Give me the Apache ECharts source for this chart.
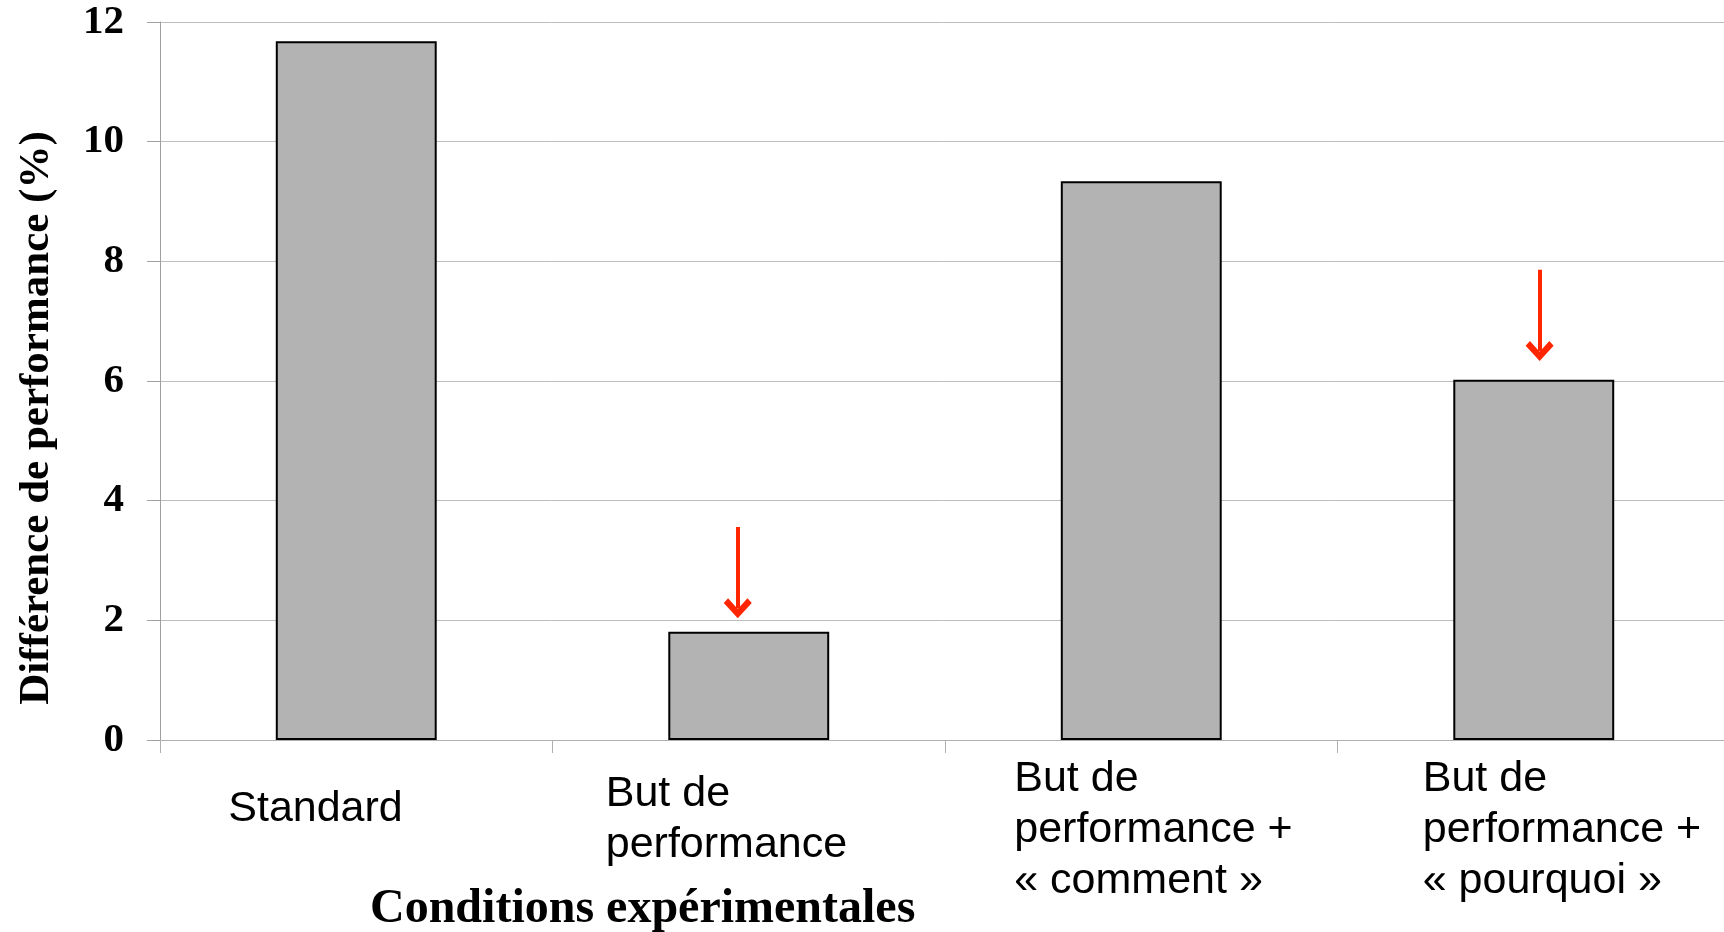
<!DOCTYPE html>
<html>
<head>
<meta charset="utf-8">
<script src="https://cdn.jsdelivr.net/npm/echarts@6/dist/echarts.min.js"></script>
<style>
  html, body { margin: 0; padding: 0; background: #fff; }
  #chart { width: 1724px; height: 932px; }
</style>
</head>
<body>
<div id="chart"></div>
<script>
// categories (line breaks as in the original labels)
var categories = [
  "Standard",
  "But de\nperformance",
  "But de\nperformance +\n« comment »",
  "But de\nperformance +\n« pourquoi »"
];
// performance difference (%)
var values = [11.68, 1.81, 9.34, 6.02];
// red arrows: x position (in category units), start value, end value
var arrowX = [0.972, 3.015];
var arrowFrom = [3.56, 7.86];
var arrowTo = [2.2, 6.5];

var serif = "'Liberation Serif', 'Times New Roman', serif";
var sans = "'Liberation Sans', Arial, sans-serif";

var arrowData = [];
for (var i = 0; i < arrowX.length; i++) {
  arrowData.push([
    { coord: [arrowX[i], arrowFrom[i]] },
    { coord: [arrowX[i], arrowTo[i]] }
  ]);
}

// label nudges (px) to mimic the Excel text boxes
var nudge = [7, -8, 8, 24];
var catData = categories.map(function (c, i) {
  var n = c.split("\n").length;
  var s = nudge[i];
  return {
    value: c,
    textStyle: { padding: [(3 - n) * 15, s < 0 ? -2 * s : 0, 0, s > 0 ? 2 * s : 0] }
  };
});

var chart = echarts.init(document.getElementById("chart"));
var option = {
  backgroundColor: "#fff",
  animation: false,
  tooltip: { show: false },
  title: {
    text: "Conditions expérimentales",
    left: 370,
    top: 886,
    padding: 0,
    textStyle: {
      fontFamily: serif,
      fontWeight: "bold",
      fontSize: 48,
      color: "#000"
    }
  },
  grid: {
    left: 160,
    top: 22,
    width: 1570,
    height: 718,
    outerBoundsMode: "none",
    containLabel: false
  },
  xAxis: [
    {
      type: "category",
      data: catData,
      axisLine: { show: true, onZero: false, lineStyle: { color: "#b0b0b0", width: 1 } },
      axisTick: { show: true, length: 13, lineStyle: { color: "#b0b0b0" } },
      axisLabel: {
        margin: 14,
        verticalAlign: "top",
        align: "center",
        formatter: function (v) {
          return "{a|" + v + "}";
        },
        rich: {
          a: {
            width: 270,
            align: "left",
            fontFamily: sans,
            fontSize: 43,
            lineHeight: 51,
            color: "#000"
          }
        }
      }
    },
    {
      // hidden value axis matching the category slots, used for the arrows
      type: "value",
      min: -0.5,
      max: categories.length - 0.5,
      show: false,
      axisLine: { show: false, onZero: false },
      axisTick: { show: false },
      axisLabel: { show: false },
      splitLine: { show: false }
    }
  ],
  yAxis: {
    type: "value",
    min: 0,
    max: 12,
    interval: 2,
    name: "Différence de performance (%)",
    nameLocation: "middle",
    nameGap: 102,
    nameTextStyle: {
      fontFamily: serif,
      fontWeight: "bold",
      fontSize: 43,
      color: "#000",
      padding: [0, 74, 0, 0]
    },
    axisLine: { show: true, onZero: false, lineStyle: { color: "#a0a0a0", width: 1 } },
    axisTick: { show: true, length: 13, lineStyle: { color: "#a0a0a0" } },
    splitLine: { show: true, lineStyle: { color: "#bdbdbd", width: 1 } },
    axisLabel: {
      margin: 36,
      fontFamily: serif,
      fontWeight: "bold",
      fontSize: 41,
      color: "#000"
    }
  },
  series: [
    {
      type: "bar",
      data: values,
      barWidth: "41%",
      itemStyle: {
        color: "#b3b3b3",
        borderColor: "#000",
        borderWidth: 2
      }
    },
    {
      type: "line",
      xAxisIndex: 1,
      data: [],
      silent: true,
      showSymbol: false,
      markLine: {
        silent: true,
        symbol: ["none", "path://M13,0 L26,13 L22,17 L13,8 L4,17 L0,13 Z"],
        symbolSize: [28, 20],
        label: { show: false },
        lineStyle: { color: "#ff2600", width: 4, type: "solid" },
        data: arrowData
      }
    }
  ]
};
chart.setOption(option);
</script>
</body>
</html>
